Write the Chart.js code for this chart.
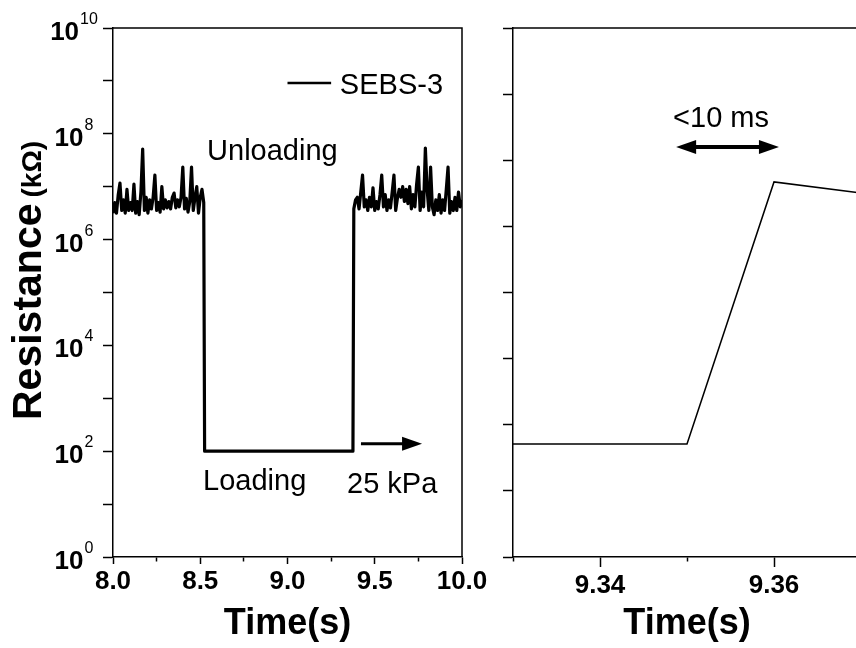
<!DOCTYPE html>
<html lang="en">
<head>
<meta charset="utf-8">
<title>SEBS-3 response</title>
<script src="https://cdn.jsdelivr.net/npm/chart.js@4.4.1/dist/chart.umd.min.js"></script>
<style>
  html, body { margin: 0; padding: 0; background: #fff; }
  .wrap { position: relative; width: 856px; height: 648px; overflow: hidden; }
  #leftBox { position: absolute; left: 0; top: 0; }
  #rightBox { position: absolute; left: 490px; top: 0; }
</style>
</head>
<body>
<div class="wrap">
  <div id="leftBox"><canvas id="leftChart" width="490" height="648"></canvas></div>
  <div id="rightBox"><canvas id="rightChart" width="374" height="648"></canvas></div>
</div>
<script>
// ---- values ----
const seriesName = 'SEBS-3';

// unloaded, before pressing (time in s, log10 of resistance in kOhm)
const timeBefore = [8.00, 8.01, 8.02, 8.03, 8.04, 8.05, 8.06, 8.07, 8.08, 8.09,
  8.10, 8.11, 8.12, 8.13, 8.14, 8.15, 8.16, 8.17, 8.18, 8.19,
  8.20, 8.21, 8.22, 8.23, 8.24, 8.25, 8.26, 8.27, 8.28, 8.29,
  8.30, 8.31, 8.32, 8.33, 8.34, 8.35, 8.36, 8.37, 8.38, 8.39,
  8.40, 8.41, 8.42, 8.43, 8.44, 8.45, 8.46, 8.47, 8.48, 8.49,
  8.50, 8.51, 8.52];
const logRBefore = [6.50, 6.70, 6.50, 6.85, 7.07, 6.55, 6.75, 6.50, 6.95, 6.55,
  6.70, 6.55, 7.05, 6.50, 6.72, 6.47, 6.90, 7.71, 6.55, 6.80,
  6.50, 6.75, 6.58, 6.80, 7.22, 6.55, 6.70, 6.52, 7.00, 6.58,
  6.75, 6.60, 6.72, 6.58, 6.80, 6.88, 6.60, 6.75, 6.62, 6.80,
  7.37, 6.58, 6.78, 6.52, 6.72, 7.37, 6.55, 6.80, 7.00, 6.50,
  6.80, 6.95, 6.70];

// loaded at 25 kPa
const timeLoaded = [8.525, 9.375];
const rLoaded = [100, 100];

// unloaded again
const timeAfter = [9.38, 9.39, 9.40, 9.41, 9.42, 9.43, 9.44, 9.45, 9.46, 9.47,
  9.48, 9.49, 9.50, 9.51, 9.52, 9.53, 9.54, 9.55, 9.56, 9.57,
  9.58, 9.59, 9.60, 9.61, 9.62, 9.63, 9.64, 9.65, 9.66, 9.67,
  9.68, 9.69, 9.70, 9.71, 9.72, 9.73, 9.74, 9.75, 9.76, 9.77,
  9.78, 9.79, 9.80, 9.81, 9.82, 9.83, 9.84, 9.85, 9.86, 9.87,
  9.88, 9.89, 9.90, 9.91, 9.92, 9.93, 9.94, 9.95, 9.96, 9.97,
  9.98, 9.99, 10.00];
const logRAfter = [6.58, 6.75, 6.80, 6.58, 6.90, 7.22, 6.62, 6.75, 6.55, 6.80,
  6.62, 6.98, 6.55, 6.72, 6.58, 6.85, 7.22, 6.62, 6.85, 6.55,
  6.75, 6.60, 6.90, 7.22, 6.55, 6.78, 6.95, 6.80, 7.00, 6.72,
  6.95, 6.68, 7.00, 6.58, 6.85, 6.62, 7.05, 7.37, 6.55, 6.90,
  6.62, 7.73, 6.95, 6.55, 7.37, 6.62, 6.47, 6.75, 6.55, 6.85,
  6.50, 6.75, 6.55, 6.95, 7.37, 6.50, 6.72, 6.55, 6.80, 6.55,
  6.90, 6.62, 6.75];

// zoom on the recovery step
const zoomTime = [9.33, 9.35, 9.36, 9.37];
const zoomR = [510, 510, 4.7e6, 3.2e6];

// axes
const leftXTicks = [8.0, 8.25, 8.5, 8.75, 9.0, 9.25, 9.5, 9.75, 10.0];
const leftXLabels = [8.0, 8.5, 9.0, 9.5, 10.0];
const leftYExp = [0, 1, 2, 3, 4, 5, 6, 7, 8, 9, 10];
const leftYLabelExp = [0, 2, 4, 6, 8, 10];
const rightXTicks = [9.33, 9.34, 9.35, 9.36, 9.37];
const rightXLabels = [9.34, 9.36];
const rightYExp = [1, 2, 3, 4, 5, 6, 7, 8, 9];

const FONT = '"Liberation Sans", Arial, Helvetica, sans-serif';
const INK = '#000';

// draws the top (and right) edge of the plot box
function framePlugin(withRight) {
    return {
        id: 'frame',
        afterDraw(chart) {
            const { ctx, chartArea: a } = chart;
            ctx.save();
            ctx.strokeStyle = INK;
            ctx.lineWidth = 1.5;
            ctx.beginPath();
            ctx.moveTo(a.left, a.top);
            ctx.lineTo(a.right, a.top);
            if (withRight) ctx.lineTo(a.right, a.bottom);
            ctx.stroke();
            ctx.restore();
        }
    };
}

// 10^n labels on the log axis
const powerLabels = {
    id: 'powerLabels',
    afterDraw(chart) {
        const { ctx } = chart;
        const y = chart.scales.y;
        const cx = chart.chartArea.left - 39;
        ctx.save();
        ctx.fillStyle = INK;
        ctx.textBaseline = 'alphabetic';
        ctx.textAlign = 'left';
        leftYLabelExp.forEach(e => {
            const py = y.getPixelForValue(10 ** e);
            ctx.font = `bold 26px ${FONT}`;
            const wb = ctx.measureText('10').width;
            ctx.font = `16px ${FONT}`;
            const ws = ctx.measureText(String(e)).width;
            const x0 = cx - (wb + ws + 1) / 2;
            ctx.font = `bold 26px ${FONT}`;
            ctx.fillText('10', x0, py + 12);
            ctx.font = `16px ${FONT}`;
            ctx.fillText(String(e), x0 + wb + 1, py - 4);
        });
        ctx.restore();
    }
};

// rotated y title with a smaller unit
const yTitle = {
    id: 'yTitle',
    afterDraw(chart) {
        const { ctx } = chart;
        ctx.save();
        ctx.translate(41, 420);
        ctx.rotate(-Math.PI / 2);
        ctx.fillStyle = INK;
        ctx.textBaseline = 'alphabetic';
        ctx.textAlign = 'left';
        ctx.font = `bold 41px ${FONT}`;
        ctx.fillText('Resistance', 0, 0);
        const w = ctx.measureText('Resistance').width;
        ctx.font = `bold 28px ${FONT}`;
        ctx.fillText('(k\u03A9)', w + 6, 0);
        ctx.restore();
    }
};

function drawArrowHead(ctx, tipX, y, dir, len, half) {
    ctx.beginPath();
    ctx.moveTo(tipX, y);
    ctx.lineTo(tipX - dir * len, y - half);
    ctx.lineTo(tipX - dir * len, y + half);
    ctx.closePath();
    ctx.fill();
}

// text, arrows and legend sample placed in data coordinates
function notesPlugin(notes) {
    return {
        id: 'notes',
        afterDraw(chart) {
            const { ctx } = chart;
            const xs = chart.scales.x;
            const ys = chart.scales.y;
            ctx.save();
            ctx.fillStyle = INK;
            ctx.strokeStyle = INK;
            ctx.textBaseline = 'alphabetic';
            ctx.textAlign = 'left';
            ctx.font = `29px ${FONT}`;
            (notes.texts || []).forEach(n => {
                ctx.fillText(n.text, xs.getPixelForValue(n.x), ys.getPixelForValue(n.y));
            });
            (notes.lines || []).forEach(l => {
                const py = ys.getPixelForValue(l.y);
                ctx.lineWidth = 2.6;
                ctx.beginPath();
                ctx.moveTo(xs.getPixelForValue(l.from), py);
                ctx.lineTo(xs.getPixelForValue(l.to), py);
                ctx.stroke();
            });
            (notes.arrows || []).forEach(a => {
                const x1 = xs.getPixelForValue(a.from);
                const x2 = xs.getPixelForValue(a.to);
                const py = ys.getPixelForValue(a.y);
                const head = 20;
                ctx.lineWidth = a.shaft;
                ctx.beginPath();
                ctx.moveTo(a.both ? x1 + head - 2 : x1, py);
                ctx.lineTo(x2 - head + 2, py);
                ctx.stroke();
                drawArrowHead(ctx, x2, py, 1, head, 7);
                if (a.both) drawArrowHead(ctx, x1, py, -1, head, 7);
            });
            ctx.restore();
        }
    };
}

function pointsFromLog(times, logs) {
    return times.map((t, i) => ({ x: t, y: 10 ** logs[i] }));
}

const leftPoints = [
    ...pointsFromLog(timeBefore, logRBefore),
    ...timeLoaded.map((t, i) => ({ x: t, y: rLoaded[i] })),
    ...pointsFromLog(timeAfter, logRAfter)
];
const rightPoints = zoomTime.map((t, i) => ({ x: t, y: zoomR[i] }));

const tickFont = { family: FONT, size: 26, weight: 'bold' };
const titleFont = { family: FONT, size: 36, weight: 'bold' };

function xAxis(opts) {
    return {
        type: 'linear',
        min: opts.min,
        max: opts.max,
        afterBuildTicks: s => { s.ticks = opts.ticks.map(v => ({ value: v })); },
        afterFit: s => { s.height = 91; },
        border: { display: true, color: INK, width: 1.5 },
        grid: {
            drawOnChartArea: false,
            drawTicks: true,
            tickLength: opts.tickLength,
            tickColor: INK,
            tickWidth: 1.5,
            tickBorderDash: c => (c.tick && opts.labels.includes(c.tick.value)) ? [] : [4, 40]
        },
        ticks: {
            autoSkip: false,
            maxRotation: 0,
            padding: opts.padding,
            color: INK,
            font: tickFont,
            callback: v => opts.labels.includes(v) ? v.toFixed(opts.digits) : ''
        },
        title: {
            display: true,
            text: 'Time(s)',
            color: INK,
            font: titleFont,
            padding: { top: 0, bottom: 2 }
        }
    };
}

function yAxis(opts) {
    return {
        type: 'logarithmic',
        min: 10 ** opts.exps[0],
        max: 10 ** opts.exps[opts.exps.length - 1],
        afterBuildTicks: s => { s.ticks = opts.exps.map(e => ({ value: 10 ** e })); },
        afterFit: s => { s.width = opts.width; },
        border: { display: true, color: INK, width: 1.5 },
        grid: {
            drawOnChartArea: false,
            drawTicks: true,
            tickLength: 10,
            tickColor: INK,
            tickWidth: 1.5
        },
        ticks: { display: false }
    };
}

const common = {
    responsive: false,
    animation: false,
    events: [],
    plugins: { legend: { display: false }, tooltip: { enabled: false } }
};

new Chart(document.getElementById('leftChart'), {
    type: 'line',
    data: {
        datasets: [{
            label: seriesName,
            data: leftPoints,
            borderColor: INK,
            borderWidth: 3.2,
            borderJoinStyle: 'round',
            pointRadius: 0,
            tension: 0
        }]
    },
    options: {
        ...common,
        layout: { padding: { top: 28, right: 28, left: 0, bottom: 0 } },
        scales: {
            x: xAxis({ min: 8, max: 10, ticks: leftXTicks, labels: leftXLabels, digits: 1, tickLength: 7, padding: 2 }),
            y: yAxis({ exps: leftYExp, width: 113 })
        }
    },
    plugins: [
        framePlugin(true),
        powerLabels,
        yTitle,
        notesPlugin({
            texts: [
                { text: 'Unloading', x: 8.539, y: 10 ** 7.5 },
                { text: 'Loading', x: 8.516, y: 10 ** 1.27 },
                { text: '25 kPa', x: 9.341, y: 10 ** 1.21 },
                { text: seriesName, x: 9.30, y: 10 ** 8.76 }
            ],
            lines: [{ from: 9.0, to: 9.25, y: 10 ** 8.96 }],
            arrows: [{ from: 9.421, to: 9.771, y: 10 ** 2.14, both: false, shaft: 3 }]
        })
    ]
});

new Chart(document.getElementById('rightChart'), {
    type: 'line',
    data: {
        datasets: [{
            label: seriesName,
            data: rightPoints,
            borderColor: INK,
            borderWidth: 1.5,
            pointRadius: 0,
            tension: 0
        }]
    },
    options: {
        ...common,
        layout: { padding: { top: 28, right: 0, left: 0, bottom: 0 } },
        scales: {
            x: xAxis({ min: 9.33, max: 9.37, ticks: rightXTicks, labels: rightXLabels, digits: 2, tickLength: 10, padding: 3 }),
            y: yAxis({ exps: rightYExp, width: 23 })
        }
    },
    plugins: [
        framePlugin(false),
        notesPlugin({
            texts: [{ text: '<10 ms', x: 9.3484, y: 10 ** 7.5 }],
            arrows: [{ from: 9.34875, to: 9.36057, y: 10 ** 7.2, both: true, shaft: 4 }]
        })
    ]
});
</script>
</body>
</html>
